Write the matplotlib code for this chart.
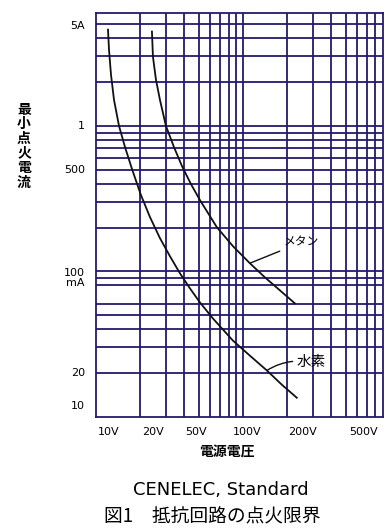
import matplotlib
matplotlib.use('Agg')
from matplotlib import pyplot as plt

plt.rcParams['font.family'] = ['Noto Sans CJK JP', 'DejaVu Sans']

# データ (電源電圧 V, 最小点火電流 A)
h2_volt = [12.07, 12.26, 12.65, 13.26, 14.34, 15.75, 17.58, 20.24, 23.3, 27.25,
           31.87, 37.28, 43.61, 51.0, 62.5, 85.5, 111.6, 145.7, 184.2, 233.0]
h2_amp = [4.59, 3.34, 2.25, 1.51, 1.0, 0.716, 0.505, 0.334, 0.236, 0.169,
          0.127, 0.0969, 0.0763, 0.0611, 0.0474, 0.0334, 0.0263, 0.0208, 0.0166, 0.0135]
ch4_volt = [24.04, 24.42, 25.6, 27.25, 29.93, 33.93, 38.46, 44.3, 51.0, 66.5,
            85.5, 111.6, 141.1, 178.6, 225.9]
ch4_amp = [4.45, 2.99, 2.08, 1.51, 1.0, 0.716, 0.53, 0.398, 0.309, 0.201,
           0.149, 0.1136, 0.0909, 0.074, 0.0602]

# 目盛線
x_grid = [20, 30, 40, 50, 60, 70, 80, 90, 100, 200, 300, 400, 500, 600, 700, 800]
y_grid = [5, 4, 3, 2, 1, 0.9, 0.8, 0.7, 0.6, 0.5, 0.4, 0.3, 0.2,
          0.1, 0.09, 0.08, 0.06, 0.05, 0.04, 0.03, 0.02]

# 目盛ラベル
x_ticks = [10, 20, 50, 100, 200, 500]
x_labels = ['10V', '20V', '50V', '100V', '200V', '500V']
x_label_dx = [9, 9, -2, 3, 11, 13]
y_ticks = [5, 1, 0.5, 0.1, 0.02, 0.01]
y_labels = ['5A', '1', '500', '100\nmA', '20', '10']
y_label_dy = [-1, 0, 0, -5, 0, 8]

navy = '#241a6e'

fig = plt.figure(figsize=(3.85, 5.28), dpi=100)
ax = fig.add_axes([96/385, 1-416.7/528, 287/385, 404/528])
ax.set_xscale('log')
ax.set_yscale('log')
ax.set_xlim(10, 900)
ax.set_ylim(0.01, 6)

ax.set_xticks(x_grid)
ax.set_yticks(y_grid)
ax.minorticks_off()
ax.set_xticklabels([])
ax.set_yticklabels([])
ax.tick_params(length=0)
ax.grid(True, color=navy, lw=1.3)
for s in ax.spines.values():
    s.set_color(navy)
    s.set_linewidth(1.3)

ax.plot(h2_volt, h2_amp, color='#111111', lw=1.3, zorder=3)
ax.plot(ch4_volt, ch4_amp, color='#111111', lw=1.3, zorder=3)

for v, lab, dx in zip(x_ticks, x_labels, x_label_dx):
    ax.annotate(lab, xy=(v, 0), xycoords=('data', 'axes fraction'),
                xytext=(dx, -11), textcoords='offset points',
                ha='center', va='center', fontsize=8, family='DejaVu Sans')
for v, lab, dy in zip(y_ticks, y_labels, y_label_dy):
    ax.annotate(lab, xy=(0, v), xycoords=('axes fraction', 'data'),
                xytext=(-8, dy), textcoords='offset points',
                ha='right', va='center', fontsize=8, family='DejaVu Sans',
                linespacing=1.0)

# 注記
ax.annotate('メタン', xy=(ch4_volt[11], ch4_amp[11]), xytext=(190, 0.158),
            fontsize=8.5, ha='left', va='center',
            arrowprops=dict(arrowstyle='-', color='#111111', lw=1.0,
                            shrinkA=1, shrinkB=0))
ax.annotate('水素', xy=(h2_volt[17], h2_amp[17]), xytext=(233, 0.0236),
            fontsize=10.5, ha='left', va='center',
            arrowprops=dict(arrowstyle='-', color='#111111', lw=1.0,
                            shrinkA=1, shrinkB=0,
                            connectionstyle='arc3,rad=0.2'))

fig.text(24/385, 1-146/528, '最\n小\n点\n火\n電\n流', ha='center', va='center',
         fontsize=10, fontweight='bold', linespacing=1.05)
fig.text(227/385, 1-453/528, '電源電圧', ha='center', va='center',
         fontsize=10, fontweight='bold')
fig.text(221/385, 1-490/528, 'CENELEC, Standard', ha='center', va='center',
         fontsize=13, family='DejaVu Sans', color='black')
fig.text(212/385, 1-517/528, '図1　抵抗回路の点火限界', ha='center', va='center',
         fontsize=13.5)

plt.savefig('out.png', dpi=100)
